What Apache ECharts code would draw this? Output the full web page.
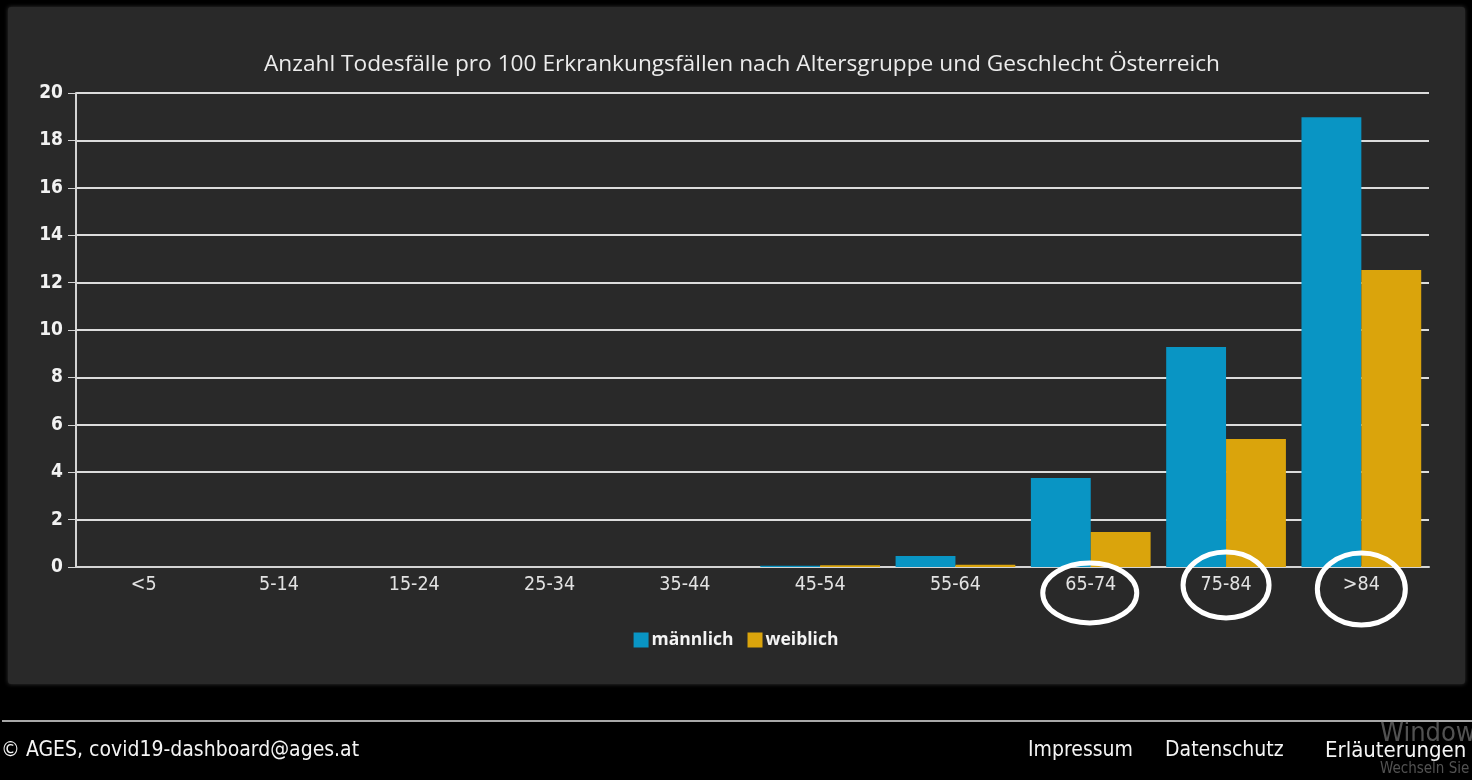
<!DOCTYPE html>
<html>
<head>
<meta charset="utf-8">
<title>Anzahl Todesfälle pro 100 Erkrankungsfällen</title>
<script src="https://cdn.jsdelivr.net/npm/echarts@6/dist/echarts.min.js"></script>
<style>
  html, body { margin: 0; padding: 0; background: #000; }
  #chart { width: 1472px; height: 780px; }
</style>
</head>
<body>
<div id="chart"></div>
<script>
// Age groups (x axis)
const ageGroups = ['<5', '5-14', '15-24', '25-34', '35-44', '45-54', '55-64', '65-74', '75-84', '>84'];
// Deaths per 100 cases, male
const maleValues = [0, 0, 0, 0, 0, 0.05, 0.46, 3.76, 9.28, 18.98];
// Deaths per 100 cases, female
const femaleValues = [0, 0, 0, 0, 0, 0.07, 0.09, 1.48, 5.4, 12.53];
// Series names
const seriesNames = ['männlich', 'weiblich'];
// Age groups marked with a hand-drawn ring
const markedGroups = ['65-74', '75-84', '>84'];
// Title and footer texts
const chartTitle = 'Anzahl Todesfälle pro 100 Erkrankungsfällen nach Altersgruppe und Geschlecht Österreich';
const footerLeft = '© AGES, covid19-dashboard@ages.at';
const footerLinks = ['Impressum', 'Datenschutz', 'Erläuterungen'];

const narrow = "'DejaVu Sans Condensed', sans-serif";
const chart = echarts.init(document.getElementById('chart'), null, { renderer: 'canvas' });

const option = {
  backgroundColor: '#000',
  animation: false,
  title: {
    text: chartTitle,
    left: 737,
    top: 48,
    textAlign: 'center',
    textStyle: { color: '#ececec', fontSize: 22.7, fontWeight: 'normal', fontFamily: "'Open Sans', sans-serif" }
  },
  legend: {
    data: seriesNames,
    left: 'center',
    top: 626,
    icon: 'rect',
    itemWidth: 15,
    itemHeight: 15,
    itemGap: 14,
    textStyle: { color: '#f4f4f4', fontSize: 17.5, fontWeight: 'bold', fontFamily: "'Open Sans', sans-serif", padding: [0, 0, 0, -2] }
  },
  grid: { left: 76, right: 43, top: 93, bottom: 213, containLabel: false },
  xAxis: {
    type: 'category',
    data: ageGroups,
    axisLine: { lineStyle: { color: '#d4d4d4', width: 2 } },
    axisTick: { alignWithLabel: true, length: 5, lineStyle: { color: '#d4d4d4', width: 1 } },
    axisLabel: { color: '#e2e2e2', fontSize: 19.5, margin: 8, fontFamily: narrow }
  },
  yAxis: {
    type: 'value',
    min: 0,
    max: 20,
    interval: 2,
    axisLine: { show: true, lineStyle: { color: '#d4d4d4', width: 2 } },
    axisTick: { show: true, length: 8, lineStyle: { color: '#d4d4d4', width: 1 } },
    axisLabel: { color: '#f2f2f2', fontSize: 19, fontWeight: 'bold', margin: 13, fontFamily: narrow },
    splitLine: { lineStyle: { color: '#dcdcdc', width: 2 } }
  },
  series: [
    {
      name: seriesNames[0],
      type: 'bar',
      data: maleValues,
      barGap: '0%',
      barCategoryGap: '11.5%',
      itemStyle: { color: '#0995c4' },
      z: 3
    },
    {
      name: seriesNames[1],
      type: 'bar',
      data: femaleValues,
      itemStyle: { color: '#daa40c' },
      z: 3
    }
  ],
  graphic: [
    // dark card behind the chart
    {
      type: 'rect', z: -10, silent: true,
      shape: { x: 8, y: 7, width: 1457, height: 677, r: 3 },
      style: { fill: '#292929', shadowBlur: 4, shadowColor: 'rgba(90,90,90,0.6)' }
    },
    // footer separator
    {
      type: 'rect', z: -10, silent: true,
      shape: { x: 2, y: 720, width: 1470, height: 2 },
      style: { fill: '#a8a8a8' }
    },
    {
      type: 'text', left: 1, top: 740,
      style: { text: footerLeft, fill: '#f4f4f4', fontSize: 21, fontFamily: narrow }
    },
    {
      type: 'text', left: 1028, top: 740,
      style: { text: footerLinks[0], fill: '#f4f4f4', fontSize: 21, fontFamily: narrow }
    },
    {
      type: 'text', left: 1165, top: 740,
      style: { text: footerLinks[1], fill: '#f4f4f4', fontSize: 21, fontFamily: narrow }
    },
    {
      type: 'text', left: 1325, top: 740,
      style: { text: footerLinks[2], fill: '#f4f4f4', fontSize: 22, fontFamily: narrow }
    },
    // faint system watermark in the corner
    {
      type: 'text', left: 1380, top: 720, silent: true,
      style: { text: 'Windows aktivieren', fill: 'rgba(150,150,150,0.55)', fontSize: 27, fontFamily: narrow }
    },
    {
      type: 'text', left: 1380, top: 762, silent: true,
      style: { text: 'Wechseln Sie zu den Einstellungen', fill: 'rgba(150,150,150,0.55)', fontSize: 15, fontFamily: narrow }
    }
  ]
};

chart.setOption(option);

// Hand-drawn rings around the oldest age groups, placed on the axis positions
const ringShapes = [
  { dx: -1, cy: 593, rx: 47, ry: 30 },
  { dx: 0, cy: 585, rx: 43, ry: 33 },
  { dx: 0, cy: 589, rx: 44, ry: 36 }
];
const rings = markedGroups.map((g, i) => {
  const x = chart.convertToPixel({ xAxisIndex: 0 }, g);
  const s = ringShapes[i];
  return {
    type: 'ellipse', z: 100, silent: true,
    shape: { cx: x + s.dx, cy: s.cy, rx: s.rx, ry: s.ry },
    style: { fill: null, stroke: '#ffffff', lineWidth: 5 }
  };
});
chart.setOption({ graphic: option.graphic.concat(rings) });
</script>
</body>
</html>
